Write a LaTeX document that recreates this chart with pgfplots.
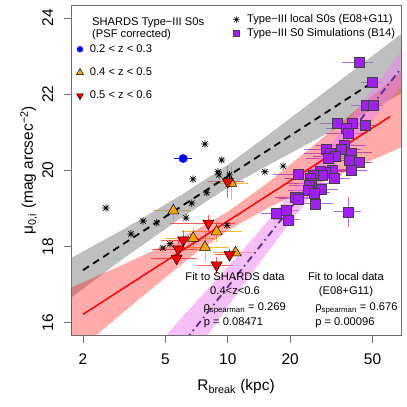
\documentclass[border=0pt]{standalone}
\usepackage{fontspec}
\setmainfont{Liberation Sans}
\usepackage{pgfplots}
\usepackage{pgfplotstable}
\pgfplotsset{compat=1.18}

\definecolor{simpurple}{HTML}{A020F0}
\definecolor{simbar}{HTML}{B565F5}
\definecolor{zorange}{HTML}{FFA500}
\definecolor{orbar}{HTML}{FFB733}
\definecolor{redbar}{HTML}{FF5A5A}
\definecolor{simfit}{HTML}{5B2A9E}
\definecolor{bandviolet}{HTML}{EE82EE}
\definecolor{framegray}{HTML}{6E6E6E}

\newcommand\lfont{\fontsize{11.2}{13.4}\selectfont}
\newcommand\afont{\fontsize{15.5}{18.5}\selectfont}

% R pch=8: plus and cross on top of each other
\pgfdeclareplotmark{rstar}{%
  \pgfpathmoveto{\pgfqpoint{-\pgfplotmarksize}{0pt}}%
  \pgfpathlineto{\pgfqpoint{\pgfplotmarksize}{0pt}}%
  \pgfpathmoveto{\pgfqpoint{0pt}{-\pgfplotmarksize}}%
  \pgfpathlineto{\pgfqpoint{0pt}{\pgfplotmarksize}}%
  \pgfpathmoveto{\pgfqpoint{-.7071\pgfplotmarksize}{-.7071\pgfplotmarksize}}%
  \pgfpathlineto{\pgfqpoint{.7071\pgfplotmarksize}{.7071\pgfplotmarksize}}%
  \pgfpathmoveto{\pgfqpoint{-.7071\pgfplotmarksize}{.7071\pgfplotmarksize}}%
  \pgfpathlineto{\pgfqpoint{.7071\pgfplotmarksize}{-.7071\pgfplotmarksize}}%
  \pgfusepathqstroke}

% local S0s (E08+G11)
\pgfplotstableread{
x y
7.76 20.69
9.34 20.27
8.97 19.96
9.06 19.88
10.2 19.88
6.79 19.77
7.91 19.41
6.70 19.14
2.58 19.01
3.90 18.67
4.54 18.62
6.28 18.75
3.41 18.33
4.86 17.96
5.26 18.07
9.91 18.56
15.1 19.96
18.5 20.11
}\localtab

% simulations (B14): x, y, relative x error, y error
\pgfplotstableread{
x y ex ey
43.0 22.83 0.17 0.08
49.8 22.30 0.12 0.08
46.8 21.71 0.16 0.08
50.4 21.70 0.12 0.08
33.9 21.24 0.18 0.08
40.0 21.23 0.18 0.08
45.9 21.19 0.15 0.08
37.2 21.10 0.20 0.08
38.1 20.97 0.22 0.08
29.8 20.55 0.22 0.10
31.1 20.45 0.25 0.10
36.5 20.66 0.28 0.10
35.2 20.55 0.25 0.10
32.9 20.36 0.22 0.10
39.6 20.46 0.25 0.10
30.5 20.32 0.22 0.10
38.4 20.27 0.20 0.10
43.0 20.20 0.15 0.10
39.3 19.99 0.20 0.10
32.1 20.01 0.22 0.10
29.7 19.96 0.25 0.10
27.9 19.98 0.25 0.10
32.5 19.79 0.20 0.10
28.7 19.88 0.22 0.10
25.8 19.88 0.25 0.10
22.0 19.90 0.25 0.10
24.9 19.79 0.25 0.10
25.4 19.66 0.25 0.10
24.7 19.61 0.20 0.10
24.5 19.48 0.20 0.10
28.4 19.51 0.20 0.10
26.1 19.41 0.20 0.10
26.4 19.12 0.22 0.10
21.1 19.29 0.20 0.10
22.0 19.25 0.20 0.10
19.1 18.94 0.15 0.10
17.1 18.87 0.15 0.10
38.3 18.91 0.15 0.40
19.5 18.70 0.15 0.10
}\simtab

% SHARDS 0.4<z<0.5
\pgfplotstableread{
x y ex ey
5.46 18.94 0.20 0.24
10.4 19.66 0.20 0.45
8.83 18.39 0.33 0.26
6.81 18.22 0.27 0.28
7.76 17.98 0.30 0.40
10.9 17.84 0.22 0.12
}\midztab

% SHARDS 0.5<z<0.6
\pgfplotstableread{
x y ex ey
8.05 18.61 0.35 0.22
6.09 18.17 0.22 0.26
5.77 17.93 0.25 0.22
5.66 17.69 0.25 0.15
8.83 17.51 0.20 0.22
10.2 17.78 0.15 0.15
10.0 19.70 0.20 0.42
}\hiztab

% SHARDS 0.2<z<0.3
\pgfplotstableread{
x y ex ey
6.09 20.31 0.10 0.05
}\lowztab

\begin{document}
\begin{tikzpicture}
\useasboundingbox (0,0) rectangle (407bp,407bp);

\begin{axis}[
    at={(71bp,72bp)}, anchor=south west,
    width=330bp, height=330bp, scale only axis,
    xmode=log, xmin=1.75, xmax=68.6, ymin=15.677, ymax=24.339,
    xtick={2,5,10,20,50}, xticklabels={2,5,10,20,50},
    ytick={16,18,20,22,24}, yticklabels={16,18,20,22,24},
    xminorticks=false, yminorticks=false,
    tick pos=left, tick align=outside, major tick length=7.5bp,
    axis line style={framegray, line width=0.8bp},
    tick style={framegray, line width=0.8bp},
    /pgf/number format/assume math mode=true,
    ticklabel style={font=\afont},
    xticklabel style={anchor=base, yshift=-21.5bp},
    yticklabel style={rotate=90, anchor=base, yshift=10.5bp},
    xlabel={R\textsubscript{break} (kpc)},
    ylabel={μ\textsubscript{0,i} (mag arcsec\textsuperscript{−2})},
    every axis x label/.style={at={(axis description cs:0.5,-0.1688)}, anchor=base, font=\afont},
    every axis y label/.style={at={(axis description cs:-0.1152,0.5)}, rotate=90, anchor=base, font=\afont},
]

% data points
\addplot[only marks, mark=square*, mark size=5bp,
    mark options={fill=simpurple, draw=black!75, line width=0.5bp},
    error bars/.cd, x dir=both, x explicit relative, y dir=both, y explicit,
    error mark=none, error bar style={simbar, line width=0.9bp}]
    table[x=x, y=y, x error=ex, y error=ey] {\simtab};

\addplot[only marks, mark=rstar, mark size=3.7bp, black, line width=0.7bp]
    table[x=x, y=y] {\localtab};

\addplot[only marks, mark=triangle*, mark size=6.4bp,
    mark options={fill=zorange, draw=black, line width=0.5bp},
    error bars/.cd, x dir=both, x explicit relative, y dir=both, y explicit,
    error mark=none, error bar style={orbar, line width=0.9bp}]
    table[x=x, y=y, x error=ex, y error=ey] {\midztab};

\addplot[only marks, mark=triangle*, mark size=6.4bp,
    mark options={fill=red, draw=black, line width=0.5bp, rotate=180},
    error bars/.cd, x dir=both, x explicit relative, y dir=both, y explicit,
    error mark=none, error bar style={redbar, line width=0.9bp}]
    table[x=x, y=y, x error=ex, y error=ey] {\hiztab};

\addplot[only marks, mark=*, mark size=4.2bp,
    mark options={fill=blue, draw=blue},
    error bars/.cd, x dir=both, x explicit relative, y dir=both, y explicit,
    error mark=none, error bar style={blue, line width=0.9bp}]
    table[x=x, y=y, x error=ex, y error=ey] {\lowztab};

% confidence bands
\addplot[draw=none, fill=gray, fill opacity=0.5] coordinates {
    (1.750,17.696) (3.162,18.461) (6.000,19.361) (10.00,20.144) (15.85,20.949)
    (25.12,21.774) (39.81,22.599) (68.55,23.571)
    (68.55,22.011) (39.81,21.319) (25.12,20.734) (15.85,20.149) (10.00,19.544)
    (6.000,18.761) (3.162,17.701) (1.750,16.656)
};
\addplot[draw=none, fill=red, fill opacity=0.33] coordinates {
    (1.750,16.920) (2.228,17.173) (3.162,17.541) (5.012,18.040) (7.079,18.442)
    (10.00,18.912) (15.85,19.703) (25.12,20.588) (39.81,21.498) (68.55,22.584)
    (68.55,20.602) (39.81,20.036) (25.12,19.546) (15.85,19.031) (10.00,18.422)
    (7.079,17.842) (5.012,17.194) (3.162,16.293) (2.228,15.597) (1.750,15.114)
};
\addplot[draw=none, fill=bandviolet, fill opacity=0.5] coordinates {
    (4.467,15.340) (6.026,16.154) (7.943,16.856) (10.00,17.461) (14.29,18.423)
    (19.95,19.366) (28.18,20.373) (39.81,21.421) (68.55,23.118)
    (68.55,22.218) (39.81,20.681) (28.18,19.673) (19.95,18.626) (14.29,17.583)
    (10.00,16.421) (7.943,15.656) (6.026,14.714) (4.467,13.740)
};

% fits
\addplot[black, line width=1.8bp, dash pattern=on 7bp off 5bp] coordinates {(2,17.38) (51,22.34)};
\addplot[red, line width=1.5bp] coordinates {(2,16.22) (60.7,21.41)};
\addplot[simfit, line width=1.8bp, dash pattern=on 7bp off 4bp on 1.5bp off 4bp]
    coordinates {(4.467,14.54) (68.55,22.668)};

% annotations
\node[anchor=base, inner sep=0pt, font=\lfont] at (axis cs:10.84,17.105) {Fit to SHARDS data};
\node[anchor=base, inner sep=0pt, font=\lfont] at (axis cs:10.84,16.727) {0.4<z<0.6};
\node[anchor=base west, inner sep=0pt, font=\lfont] at (axis cs:7.62,16.315) {ρ\textsubscript{spearman} = 0.269};
\node[anchor=base west, inner sep=0pt, font=\lfont] at (axis cs:7.65,15.921) {p = 0.08471};
\node[anchor=base, inner sep=0pt, font=\lfont] at (axis cs:37.2,17.105) {Fit to local data};
\node[anchor=base, inner sep=0pt, font=\lfont] at (axis cs:37.2,16.727) {(E08+G11)};
\node[anchor=base west, inner sep=0pt, font=\lfont] at (axis cs:26.4,16.315) {ρ\textsubscript{spearman} = 0.676};
\node[anchor=base west, inner sep=0pt, font=\lfont] at (axis cs:26.4,15.921) {p = 0.00096};

\node[anchor=base west, inner sep=0pt, font=\lfont] at (axis description cs:0.0636,0.9373) {SHARDS Type−III S0s};
\node[anchor=base west, inner sep=0pt, font=\lfont] at (axis description cs:0.0636,0.9021) {(PSF corrected)};
\end{axis}

% left legend
\begin{axis}[
    at={(71bp,72bp)}, anchor=south west,
    width=330bp, height=330bp, scale only axis,
    hide axis, xmin=0, xmax=1, ymin=0, ymax=1,
    legend cell align=left,
    legend image code/.code={\draw[#1] plot coordinates {(0bp,0bp)};},
    legend style={draw=none, fill=none, inner sep=0pt, outer sep=0pt,
        at={(axis description cs:0.0167,0.880)}, anchor=north west,
        row sep=14bp, column sep=6.5bp, font=\lfont, nodes={inner sep=0pt}},
]
\addlegendimage{only marks, mark=*, mark size=2.9bp, mark options={fill=blue, draw=blue}}
\addlegendentry{0.2 < z < 0.3}
\addlegendimage{only marks, mark=triangle*, mark size=4bp, mark options={fill=zorange, draw=black, line width=0.5bp}}
\addlegendentry{0.4 < z < 0.5}
\addlegendimage{only marks, mark=triangle*, mark size=4bp, mark options={fill=red, draw=black, line width=0.5bp, rotate=180}}
\addlegendentry{0.5 < z < 0.6}
\end{axis}

% right legend
\begin{axis}[
    at={(71bp,72bp)}, anchor=south west,
    width=330bp, height=330bp, scale only axis,
    hide axis, xmin=0, xmax=1, ymin=0, ymax=1,
    legend cell align=left,
    legend image code/.code={\draw[#1] plot coordinates {(0bp,0bp)};},
    legend style={draw=none, fill=none, inner sep=0pt, outer sep=0pt,
        at={(axis description cs:0.4915,0.9703)}, anchor=north west,
        row sep=4bp, column sep=7.5bp, font=\lfont, nodes={inner sep=0pt}},
]
\addlegendimage{only marks, mark=rstar, mark size=3.2bp, black, line width=0.6bp}
\addlegendentry{Type−III local S0s (E08+G11)}
\addlegendimage{only marks, mark=square*, mark size=3.1bp, mark options={fill=simpurple, draw=black!75, line width=0.5bp}}
\addlegendentry{Type−III S0 Simulations (B14)}
\end{axis}
\end{tikzpicture}
\end{document}
